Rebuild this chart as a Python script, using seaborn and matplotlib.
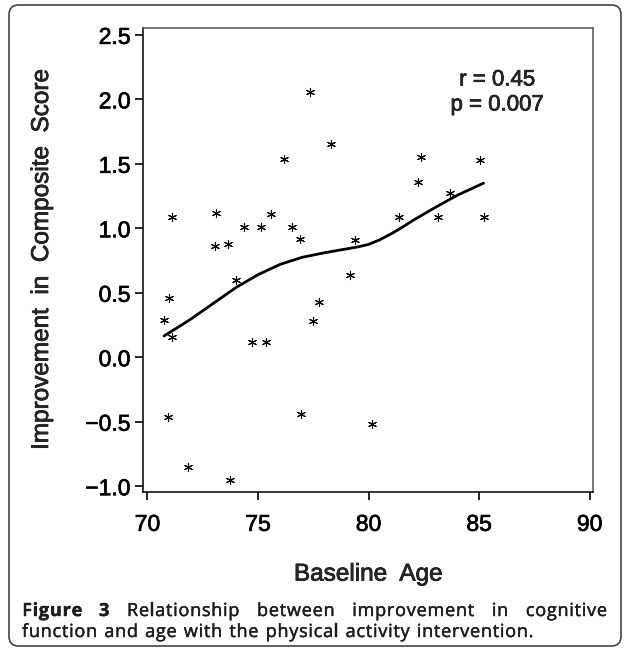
import matplotlib
matplotlib.use('Agg')
import matplotlib.pyplot as plt
import matplotlib.patheffects as pe
from matplotlib.patches import FancyBboxPatch
import seaborn as sns
import pandas as pd

# data
baseline_age = [77.36, 78.29, 76.19, 71.13, 73.08, 75.58, 74.39, 75.12, 76.53,
                73.06, 73.64, 76.88, 79.39, 79.18, 74.02, 70.99, 70.75, 71.10,
                77.78, 77.48, 74.73, 75.34, 70.93, 76.95, 80.17, 71.82, 73.73,
                82.37, 85.03, 82.22, 83.68, 81.38, 83.12, 85.20]
improvement = [2.06, 1.65, 1.54, 1.09, 1.12, 1.11, 1.01, 1.01, 1.01,
               0.86, 0.88, 0.92, 0.91, 0.64, 0.60, 0.46, 0.29, 0.16,
               0.43, 0.28, 0.12, 0.12, -0.46, -0.44, -0.52, -0.85, -0.95,
               1.55, 1.53, 1.36, 1.27, 1.09, 1.09, 1.09]

# smoothed (loess) curve
curve_age = [70.75, 71.5, 72, 73, 74, 75, 76, 77, 78, 79, 79.5, 80, 80.5,
             81, 81.5, 82, 83, 84, 85.2]
curve_val = [0.165, 0.245, 0.30, 0.42, 0.54, 0.64, 0.72, 0.775, 0.81, 0.84,
             0.855, 0.875, 0.91, 0.955, 1.005, 1.06, 1.16, 1.255, 1.35]

x_ticks = [70, 75, 80, 85, 90]
y_ticks = [-1.0, -0.5, 0.0, 0.5, 1.0, 1.5, 2.0, 2.5]

caption1 = [('Figure', 'bold'), ('3', 'bold'), ('Relationship', 'normal'),
            ('between', 'normal'), ('improvement', 'normal'), ('in', 'normal'),
            ('cognitive', 'normal')]
caption2 = 'function and age with the physical activity intervention.'

df = pd.DataFrame({'age': baseline_age, 'imp': improvement})
curve = pd.DataFrame({'age': curve_age, 'imp': curve_val})

sns.set_style('white')
plt.rcParams['font.family'] = ['Liberation Sans', 'DejaVu Sans']

# a little heavier strokes, like the scanned original
heavy = [pe.withStroke(linewidth=0.5, foreground='black')]

W, H = 627, 651
fig = plt.figure(figsize=(W / 100, H / 100), dpi=100)
ax = fig.add_axes([143 / W, 1 - 492 / H, (593 - 143) / W, (492 - 28) / H])

sns.scatterplot(data=df, x='age', y='imp', marker=(6, 2, 0), s=34,
                color='black', edgecolor='black', linewidth=0.8, ax=ax)
sns.lineplot(data=curve, x='age', y='imp', color='black', linewidth=2, ax=ax)

ax.set_xlim(69.8, 90.15)
ax.set_ylim(-1.045, 2.553)
ax.set_xticks(x_ticks)
ax.set_yticks(y_ticks)
ax.set_xticklabels([str(v) for v in x_ticks])
ax.set_yticklabels([f'{v:.1f}'.replace('-', '\u2212') for v in y_ticks])
ax.tick_params(axis='both', direction='out', length=6, width=1.2,
               labelsize=16.5, colors='black')
ax.tick_params(axis='x', pad=9)
ax.tick_params(axis='y', pad=3)
ax.tick_params(left=True, bottom=True)
for lab in ax.get_xticklabels() + ax.get_yticklabels():
    lab.set_path_effects(heavy)
for side, sp in ax.spines.items():
    sp.set_visible(True)
    sp.set_linewidth(1.1)
    sp.set_color('black' if side in ('left', 'bottom') else '#555555')

ax.set_xlabel('Baseline  Age', fontsize=17.5, labelpad=20, path_effects=heavy)
ax.set_ylabel('Improvement  in  Composite  Score', fontsize=17.5,
              path_effects=heavy)
ax.yaxis.set_label_coords(-0.2, 0.5)

ax.text(0.787, 0.888, 'r = 0.45', transform=ax.transAxes, ha='center',
        va='center', fontsize=16, path_effects=heavy)
ax.text(0.787, 0.834, 'p = 0.007', transform=ax.transAxes, ha='center',
        va='center', fontsize=16, path_effects=heavy)

# rounded frame around the whole figure
frame = FancyBboxPatch((9 / W, 1 - 646 / H), (621 - 9) / W, (646 - 5) / H,
                       boxstyle='round,pad=0,rounding_size=0.015',
                       transform=fig.transFigure, fill=False,
                       edgecolor='#444444', linewidth=1.2)
fig.patches.append(frame)

# caption: letter-spaced, first line justified
cap_font = ['Open Sans', 'DejaVu Sans']
cap_size = 13
track = 0.8
cap_color = '#1c1c1c'
cap_fx = [pe.withStroke(linewidth=0.3, foreground=cap_color)]
fig.canvas.draw()
rend = fig.canvas.get_renderer()
width_cache = {}


def char_w(ch, wt):
    key = (ch, wt)
    if key not in width_cache:
        t = fig.text(0, 0, 'x' + ch + 'x', fontsize=cap_size, weight=wt,
                     family=cap_font)
        t2 = fig.text(0, 0, 'xx', fontsize=cap_size, weight=wt,
                      family=cap_font)
        width_cache[key] = (t.get_window_extent(rend).width
                            - t2.get_window_extent(rend).width)
        t.remove()
        t2.remove()
    return width_cache[key]


def word_w(word, wt):
    return sum(char_w(c, wt) + track for c in word) - track


def put_word(x_px, y, word, wt):
    for c in word:
        fig.text(x_px / W, y, c, fontsize=cap_size, weight=wt,
                 family=cap_font, va='center', color=cap_color,
                 path_effects=cap_fx)
        x_px += char_w(c, wt) + track
    return x_px


left_px, right_px = 22, 607
y1 = 1 - 611 / H
y2 = 1 - 632 / H
widths = [word_w(w, wt) for w, wt in caption1]
gap = (right_px - left_px - sum(widths)) / (len(widths) - 1)
x = left_px
for (w, wt), ww in zip(caption1, widths):
    put_word(x, y1, w, wt)
    x += ww + gap

space = char_w(' ', 'normal') + 2 * track + 1.0
x = left_px
for w in caption2.split(' '):
    x = put_word(x, y2, w, 'normal') - track + space

fig.savefig('out.png', dpi=100)
